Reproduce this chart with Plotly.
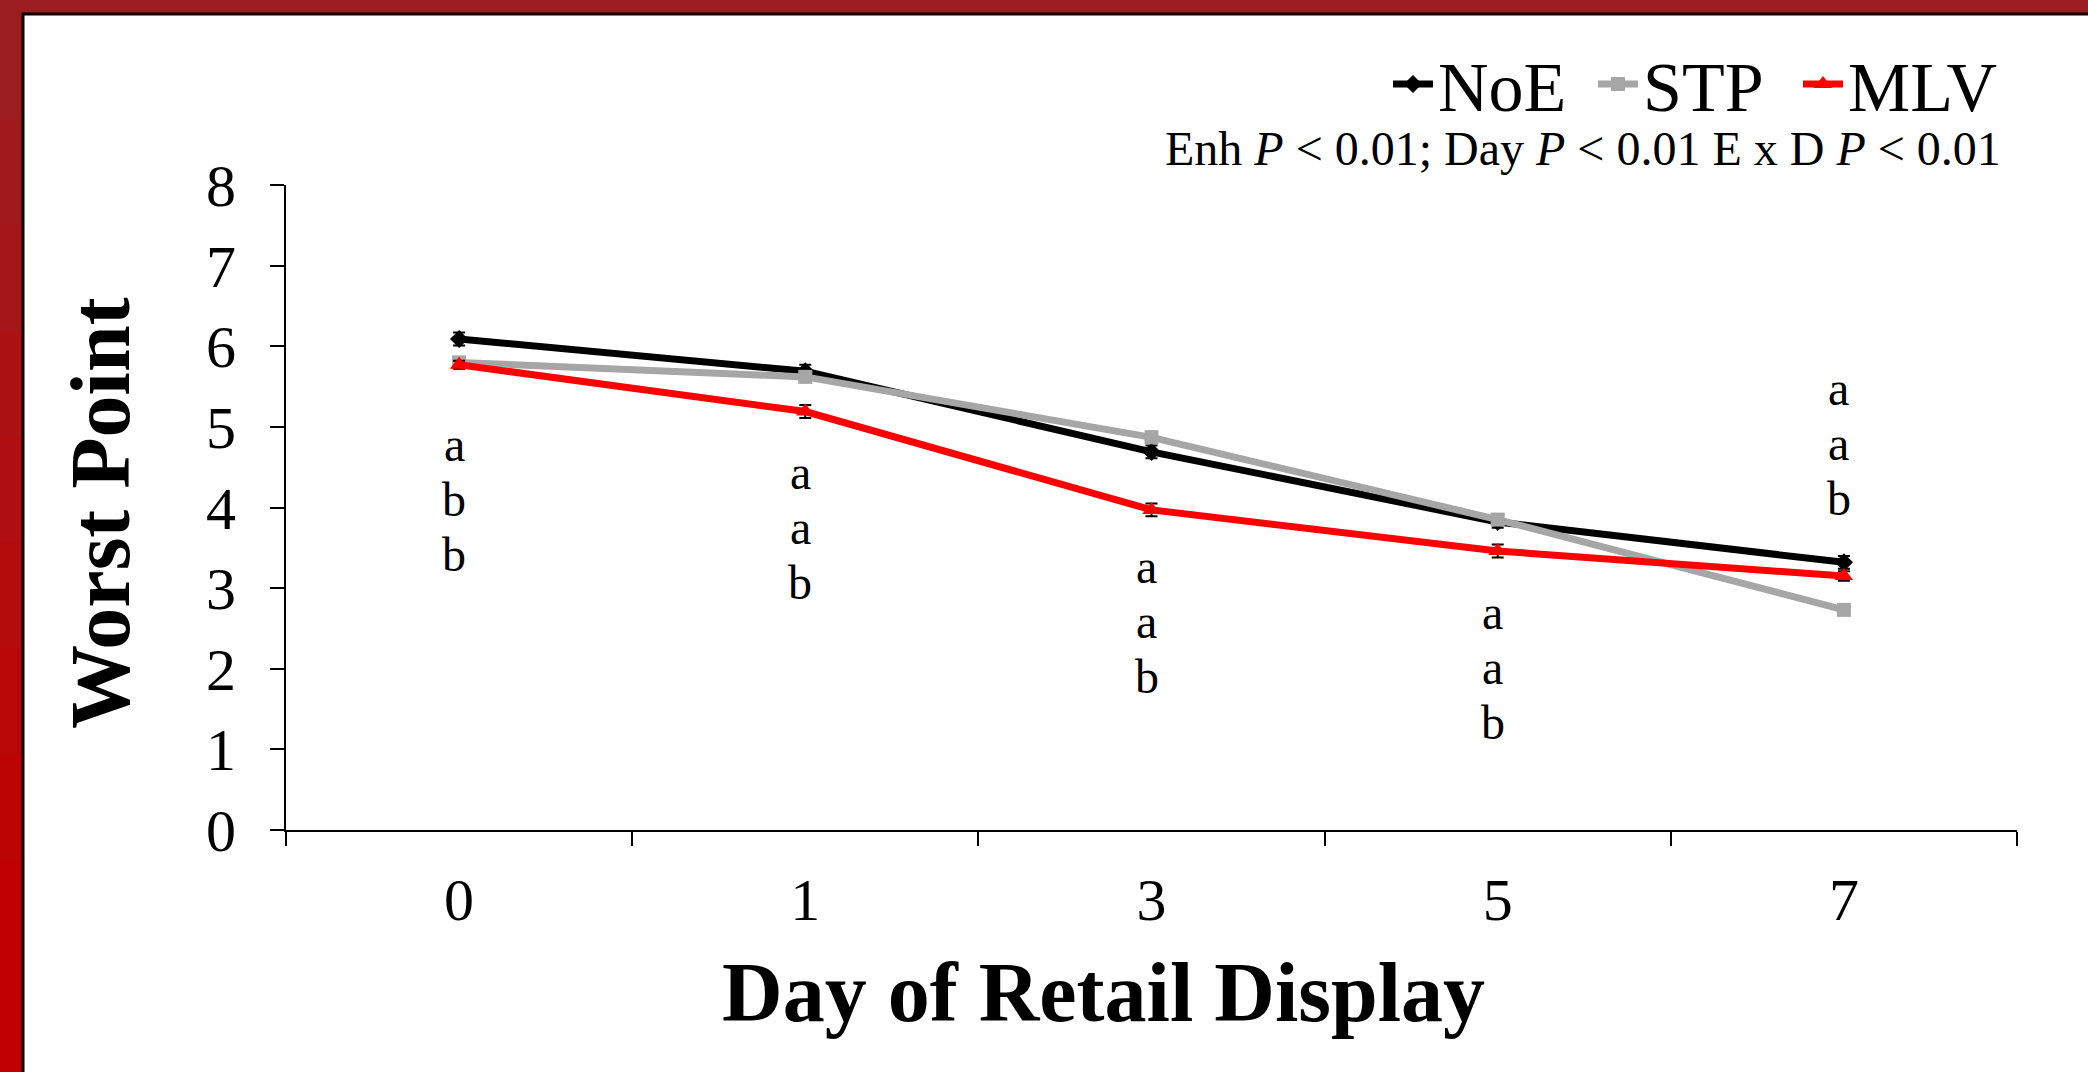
import plotly.graph_objects as go

# Worst-point colour score over days of retail display, by enhancement treatment
days = ["0", "1", "3", "5", "7"]

noe_mean = [6.09, 5.69, 4.69, 3.82, 3.32]
stp_mean = [5.80, 5.62, 4.87, 3.85, 2.73]
mlv_mean = [5.77, 5.19, 3.97, 3.46, 3.15]

noe_se = [0.08, 0.08, 0.08, 0.07, 0.08]
stp_se = [0.06, 0.06, 0.07, 0.07, 0.05]
mlv_se = [0.05, 0.08, 0.08, 0.08, 0.06]

# Mean-separation letters (NoE / STP / MLV) for each day
letters = [["a", "b", "b"], ["a", "a", "b"], ["a", "a", "b"], ["a", "a", "b"], ["a", "a", "b"]]
letter_top = [4.78, 4.44, 3.27, 2.70, 5.48]

FONT = "Liberation Serif, Times New Roman, serif"
W, H = 2088, 1072
L, R, T, B = 286, 71, 185, 242
PW, PH = W - L - R, H - T - B
LETTER_STEP = 55  # px between stacked letters


def px(xp):
    return (xp - L) / PW


def py(yp):
    return (H - B - yp) / PH


fig = go.Figure()

series = [
    ("NoE", noe_mean, noe_se, "#000000", "diamond", 14),
    ("STP", stp_mean, stp_se, "#A6A6A6", "square", 14),
    ("MLV", mlv_mean, mlv_se, "#FF0000", "triangle-up", 16),
]
for name, mean, se, color, sym, size in series:
    fig.add_trace(go.Scatter(
        x=days, y=mean, name=name, mode="lines+markers",
        line=dict(color=color, width=7),
        marker=dict(symbol=sym, size=size, color=color),
        error_y=dict(type="data", array=se, visible=True,
                     color="#000000", thickness=2, width=6),
    ))

# Letter stacks beside each day (category index used as x position)
for i, (lets, top) in enumerate(zip(letters, letter_top)):
    for k, letter in enumerate(lets):
        fig.add_annotation(
            x=i, y=top, xref="x", yref="y", text=letter,
            showarrow=False, xshift=-5, yshift=-k * LETTER_STEP,
            xanchor="center", yanchor="middle",
            font=dict(family=FONT, size=48, color="#000000"),
        )

# Statistics line under the legend
fig.add_annotation(
    x=px(2003), y=py(149), xref="paper", yref="paper",
    xanchor="right", yanchor="middle", showarrow=False,
    text="Enh <i>P</i> &lt; 0.01; Day <i>P</i> &lt; 0.01 E x D <i>P</i> &lt; 0.01",
    font=dict(family=FONT, size=48, color="#000000"),
)

# Axis titles
fig.add_annotation(
    x=px(1103), y=py(992), xref="paper", yref="paper",
    xanchor="center", yanchor="middle", showarrow=False,
    text="<b>Day of Retail Display</b>",
    font=dict(family=FONT, size=84, color="#000000"),
)
fig.add_annotation(
    x=px(100), y=py(513), xref="paper", yref="paper",
    xanchor="center", yanchor="middle", showarrow=False, textangle=-90,
    text="<b>Worst Point</b>",
    font=dict(family=FONT, size=84, color="#000000"),
)

# Slide frame: dark red bands on the top and left edges
shapes = [
    dict(type="rect", xref="paper", yref="paper", x0=px(0), x1=px(W), y0=py(13), y1=py(0),
         fillcolor="#9B1D20", line=dict(width=0), layer="below"),
]
band_cols = ["#9B1D20", "#A0191C", "#A51618", "#AA1214", "#AF0F10", "#B40B0B",
             "#B80707", "#BC0404", "#C00000", "#C00000"]
n = len(band_cols)
for i, c in enumerate(band_cols):
    y0 = 13 + (H - 13) * i / n
    y1 = 13 + (H - 13) * (i + 1) / n
    shapes.append(dict(type="rect", xref="paper", yref="paper",
                       x0=px(0), x1=px(22), y0=py(y1 + 1), y1=py(y0),
                       fillcolor=c, line=dict(width=0), layer="below"))
shapes.append(dict(type="line", xref="paper", yref="paper", x0=px(22), x1=px(W),
                   y0=py(14), y1=py(14), line=dict(color="#000000", width=3)))
shapes.append(dict(type="line", xref="paper", yref="paper", x0=px(23), x1=px(23),
                   y0=py(13), y1=py(H), line=dict(color="#000000", width=3)))

fig.update_layout(
    width=W, height=H,
    margin=dict(l=L, r=R, t=T, b=B, autoexpand=False),
    paper_bgcolor="#FFFFFF", plot_bgcolor="#FFFFFF",
    font=dict(family=FONT, color="#000000"),
    shapes=shapes,
    showlegend=True,
    legend=dict(
        orientation="h", x=px(2003), y=py(84), xanchor="right", yanchor="middle",
        font=dict(family=FONT, size=70, color="#000000"),
        bgcolor="rgba(0,0,0,0)", itemwidth=40, traceorder="normal",
        entrywidth=150, entrywidthmode="pixels",
    ),
    xaxis=dict(
        type="category", categoryorder="array", categoryarray=days,
        range=[-0.5, 4.5], tickson="boundaries",
        showline=True, linecolor="#000000", linewidth=2,
        ticks="outside", ticklen=14, tickwidth=2, tickcolor="#000000",
        showgrid=False, zeroline=False,
        tickfont=dict(family=FONT, size=60, color="#000000"),
        ticklabelstandoff=16,
    ),
    yaxis=dict(
        range=[0, 8], dtick=1, tick0=0,
        showline=True, linecolor="#000000", linewidth=2,
        ticks="outside", ticklen=14, tickwidth=2, tickcolor="#000000",
        showgrid=False, zeroline=False,
        tickfont=dict(family=FONT, size=60, color="#000000"),
        ticklabelstandoff=22,
    ),
)

fig.write_html("out.html")
